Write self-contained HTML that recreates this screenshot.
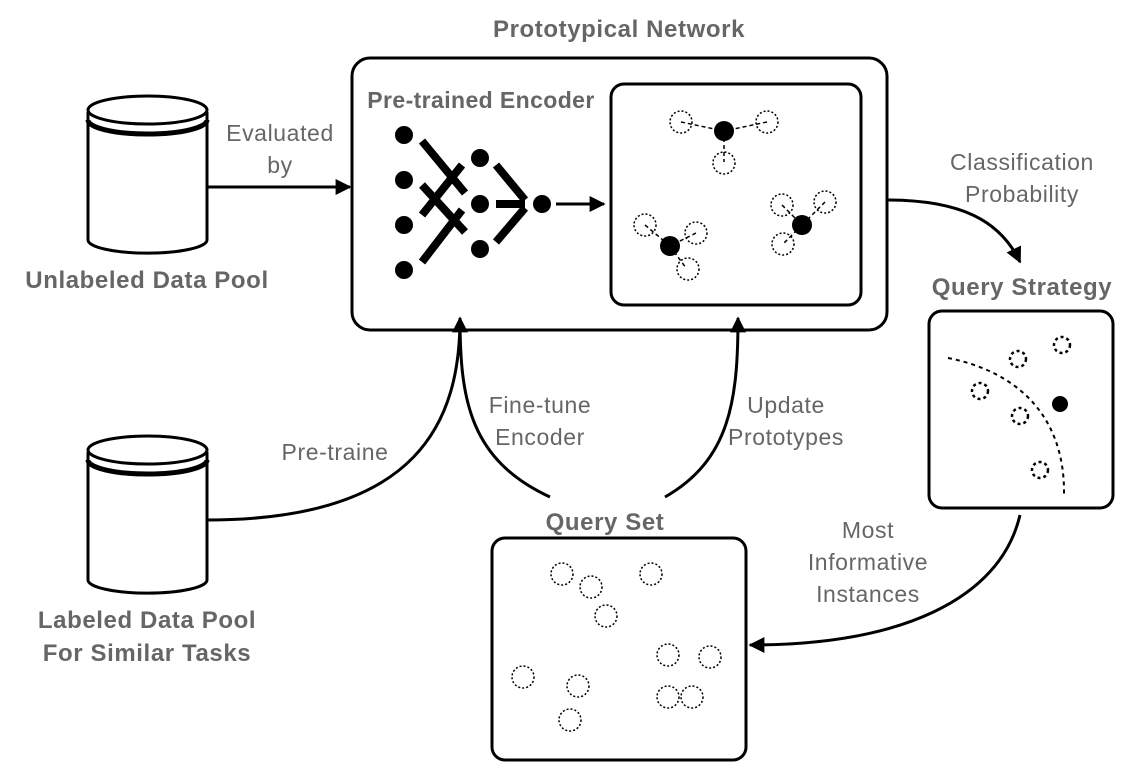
<!DOCTYPE html>
<html><head><style>body{margin:0;background:#fff}svg{display:block}</style></head><body>
<svg width="1138" height="783" viewBox="0 0 1138 783" xmlns="http://www.w3.org/2000/svg" font-family="Liberation Sans, sans-serif">
<defs>
<marker id="a" viewBox="0 0 10 10" refX="9" refY="5" markerWidth="18" markerHeight="16" markerUnits="userSpaceOnUse" orient="auto"><path d="M0,0 L10,5 L0,10 z" fill="#000"/></marker>
</defs>
<g fill="#666" font-weight="bold" font-size="24" letter-spacing="0.6" text-anchor="middle">
<text x="619" y="37">Prototypical Network</text>
<text x="481" y="108" font-size="23" letter-spacing="0.4">Pre-trained Encoder</text>
<text x="147" y="288">Unlabeled Data Pool</text>
<text x="147" y="628">Labeled Data Pool</text>
<text x="147" y="661">For Similar Tasks</text>
<text x="1022" y="295">Query Strategy</text>
<text x="605" y="530">Query Set</text>
</g>
<g fill="#666" font-size="23" letter-spacing="0.6" text-anchor="middle">
<text x="280" y="141">Evaluated</text><text x="280" y="173">by</text>
<text x="1022" y="170">Classification</text><text x="1022" y="202">Probability</text>
<text x="335" y="460">Pre-traine</text>
<text x="540" y="413">Fine-tune</text><text x="540" y="445">Encoder</text>
<text x="786" y="413">Update</text><text x="786" y="445">Prototypes</text>
<text x="868" y="538">Most</text><text x="868" y="570">Informative</text><text x="868" y="602">Instances</text>
</g>
<g fill="none" stroke="#000" stroke-width="3">
<rect x="352" y="58" width="535" height="272" rx="18"/>
<rect x="611" y="84" width="250" height="221" rx="13"/>
<rect x="929" y="311" width="184" height="197" rx="13"/>
<rect x="492" y="538" width="254" height="222" rx="13"/>
<path d="M88,112 L88,240 A59,13 0 0 0 207,240 L207,112"/>
<ellipse cx="147.5" cy="110" rx="59.5" ry="14"/>
<path d="M88,120 A59.5,14 0 0 0 207,120" stroke-width="5"/>
<path d="M88,452 L88,580 A59,13 0 0 0 207,580 L207,452"/>
<ellipse cx="147.5" cy="450" rx="59.5" ry="14"/>
<path d="M88,460 A59.5,14 0 0 0 207,460" stroke-width="5"/>
<line x1="207" y1="187" x2="350" y2="187" marker-end="url(#a)"/>
<line x1="556" y1="204" x2="604" y2="204" marker-end="url(#a)"/>
<path d="M207,520 C420,520 460,420 460,318" marker-end="url(#a)"/>
<path d="M550,497 C470,460 460,400 460,318"/>
<path d="M665,497 C730,460 738,400 738,318" marker-end="url(#a)"/>
<path d="M887,200 C960,200 1000,220 1020,262" marker-end="url(#a)"/>
<path d="M1020,515 C1000,600 900,645 750,645" marker-end="url(#a)"/>
</g>
<g stroke="#000" stroke-width="8">
<line x1="422" y1="141" x2="465" y2="193"/>
<line x1="422" y1="185" x2="465" y2="232"/>
<line x1="422" y1="215" x2="462" y2="165"/>
<line x1="422" y1="262" x2="462" y2="210"/>
<line x1="496" y1="165" x2="525" y2="200"/>
<line x1="496" y1="242" x2="525" y2="208"/>
<line x1="496" y1="204" x2="525" y2="204"/>
</g>
<g fill="#000">
<circle cx="404" cy="135" r="9"/><circle cx="404" cy="180" r="9"/><circle cx="404" cy="225" r="9"/><circle cx="404" cy="270" r="9"/>
<circle cx="480" cy="158" r="9"/><circle cx="480" cy="204" r="9"/><circle cx="480" cy="249" r="9"/>
<circle cx="542" cy="204" r="9"/>
<circle cx="724" cy="131" r="10"/><circle cx="670" cy="246" r="10"/><circle cx="802" cy="225" r="10"/>
<circle cx="1060" cy="404" r="8"/>
</g>
<g stroke="#000" stroke-width="1.5" stroke-dasharray="4,3" fill="none">
<line x1="681" y1="122" x2="724" y2="131"/><line x1="767" y1="122" x2="724" y2="131"/><line x1="724" y1="131" x2="724" y2="162"/>
<line x1="645" y1="225" x2="670" y2="246"/><line x1="696" y1="233" x2="670" y2="246"/><line x1="670" y1="246" x2="686" y2="268"/>
<line x1="782" y1="205" x2="802" y2="225"/><line x1="825" y1="202" x2="802" y2="225"/><line x1="802" y1="225" x2="783" y2="244"/>
</g>
<g stroke="#000" stroke-width="1.5" stroke-dasharray="2,2" fill="none">
<circle cx="681" cy="122" r="11"/><circle cx="767" cy="122" r="11"/><circle cx="724" cy="163" r="11"/>
<circle cx="645" cy="225" r="11"/><circle cx="696" cy="233" r="11"/><circle cx="688" cy="269" r="11"/>
<circle cx="782" cy="205" r="11"/><circle cx="825" cy="202" r="11"/><circle cx="783" cy="244" r="11"/>
<circle cx="562" cy="574" r="11"/><circle cx="591" cy="587" r="11"/><circle cx="651" cy="574" r="11"/><circle cx="606" cy="616" r="11"/>
<circle cx="668" cy="655" r="11"/><circle cx="710" cy="657" r="11"/><circle cx="523" cy="677" r="11"/><circle cx="578" cy="686" r="11"/>
<circle cx="668" cy="697" r="11"/><circle cx="692" cy="697" r="11"/><circle cx="570" cy="720" r="11"/>
</g>
<g stroke="#000" stroke-width="2.5" stroke-dasharray="3,3" fill="none">
<circle cx="1018" cy="359" r="8"/><circle cx="1062" cy="345" r="8"/><circle cx="980" cy="391" r="8"/><circle cx="1020" cy="416" r="8"/><circle cx="1040" cy="470" r="8"/>
</g>
<path d="M948,358 C1010,370 1065,410 1064,494" stroke="#000" stroke-width="2" stroke-dasharray="4,4" fill="none"/>
</svg>
</body></html>
